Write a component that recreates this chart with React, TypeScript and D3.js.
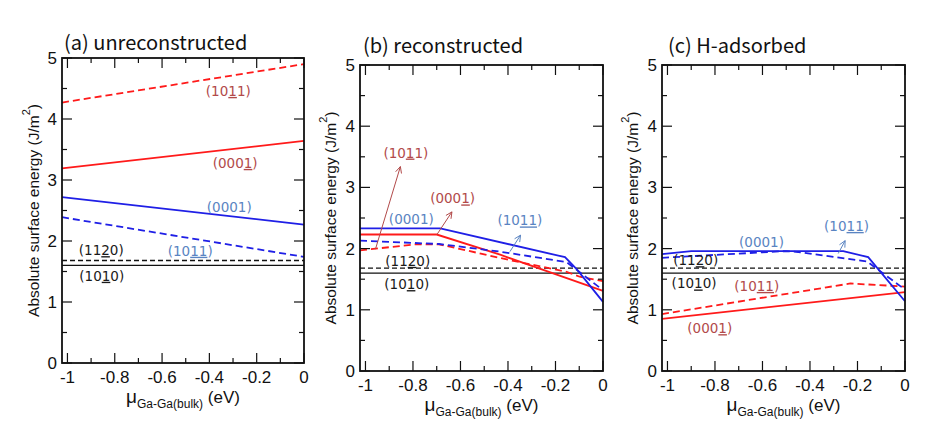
import React from "react";
import * as d3 from "d3";

// ---------- data ----------
const XMIN = -1.023;
const xTickValues = [-1, -0.8, -0.6, -0.4, -0.2, 0];
const xTickLabels = ["-1", "-0.8", "-0.6", "-0.4", "-0.2", "0"];
const xMinorTicks = [-0.9, -0.7, -0.5, -0.3, -0.1];
const yTickValues = [0, 1, 2, 3, 4, 5];
const yTickLabels = ["0", "1", "2", "3", "4", "5"];
const yMinorTicks = [0.5, 1.5, 2.5, 3.5, 4.5];

const panelTitles = ["(a) unreconstructed", "(b) reconstructed", "(c) H-adsorbed"];

const E_1120 = 1.68;
const E_1010 = 1.6;

// panel (a)
const aRed1011: [number, number][] = [[XMIN, 4.27], [0, 4.9]];
const aRed0001b: [number, number][] = [[XMIN, 3.19], [0, 3.64]];
const aBlue0001: [number, number][] = [[XMIN, 2.72], [0, 2.27]];
const aBlue1011: [number, number][] = [[XMIN, 2.39], [0, 1.74]];

// panel (b)
const bBlue0001: [number, number][] = [[XMIN, 2.33], [-0.685, 2.33], [-0.16, 1.86], [-0.11, 1.66], [0, 1.13]];
const bRed0001b: [number, number][] = [[XMIN, 2.23], [-0.7, 2.23], [-0.433, 1.9], [0, 1.31]];
const bBlue1011: [number, number][] = [[XMIN, 2.13], [-0.69, 2.075], [-0.433, 1.95], [-0.153, 1.78], [0, 1.32]];
const bRed1011: [number, number][] = [[XMIN, 1.97], [-0.79, 2.07], [-0.69, 2.07], [-0.39, 1.81], [-0.153, 1.62], [-0.098, 1.54], [0, 1.47]];

// panel (c)
const cBlue0001: [number, number][] = [[XMIN, 1.91], [-0.9, 1.96], [-0.26, 1.96], [-0.155, 1.86], [0, 1.14]];
const cBlue1011: [number, number][] = [[XMIN, 1.85], [-0.5, 1.96], [-0.44, 1.94], [-0.16, 1.79], [0, 1.33]];
const cRed0001b: [number, number][] = [[XMIN, 0.85], [0, 1.29]];
const cRed1011: [number, number][] = [[XMIN, 0.93], [-0.23, 1.43], [0, 1.38]];

// labels: [x, y, text, colour group] ; [..] marks underlined part
const aLabels: [number, number, string, string][] = [
  [-0.32, 4.46, "(10[1]1)", "red"],
  [-0.291, 3.28, "(000[1])", "red"],
  [-0.316, 2.56, "(0001)", "blue"],
  [-0.481, 1.84, "(10[11])", "blue"],
  [-0.857, 1.85, "(11[2]0)", "black"],
  [-0.855, 1.43, "(10[1]0)", "black"],
];
const bLabels: [number, number, string, string][] = [
  [-0.83, 3.57, "(10[1]1)", "red"],
  [-0.633, 2.82, "(000[1])", "red"],
  [-0.807, 2.48, "(0001)", "blue"],
  [-0.35, 2.46, "(10[11])", "blue"],
  [-0.822, 1.8, "(11[2]0)", "black"],
  [-0.826, 1.42, "(10[1]0)", "black"],
];
const cLabels: [number, number, string, string][] = [
  [-0.604, 2.11, "(0001)", "blue"],
  [-0.246, 2.37, "(10[11])", "blue"],
  [-0.881, 1.81, "(11[2]0)", "black"],
  [-0.888, 1.43, "(10[1]0)", "black"],
  [-0.624, 1.39, "(10[11])", "red"],
  [-0.822, 0.7, "(000[1])", "red"],
];

// arrows: [x1, y1, x2, y2, colour group]
const bArrows: [number, number, number, number, string][] = [
  [-0.958, 1.99, -0.853, 3.34, "red"],
  [-0.699, 2.23, -0.636, 2.6, "red"],
  [-0.392, 1.95, -0.347, 2.22, "blue"],
];
const cArrows: [number, number, number, number, string][] = [
  [-0.281, 1.92, -0.252, 2.13, "blue"],
];

// ---------- styling ----------
const LINE = { red: "#ff1a1a", blue: "#1f1fe6", black: "#111" };
const LABEL = { red: "#b24a4a", blue: "#5a84c2", black: "#1a1a1a" };

const frames = [
  { left: 62, right: 304, top: 58, bottom: 363, tx: 2, ty: -8, yl: -29 },
  { left: 360, right: 603, top: 65, bottom: 371, tx: 3, ty: -12, yl: -30 },
  { left: 662, right: 905, top: 65, bottom: 371, tx: 6, ty: -12, yl: -30 },
];

type Series = { pts: [number, number][]; color: "red" | "blue" | "black"; dashed: boolean };

const panelSeries: Series[][] = [
  [
    { pts: [[XMIN, E_1010], [0, E_1010]], color: "black", dashed: false },
    { pts: [[XMIN, E_1120], [0, E_1120]], color: "black", dashed: true },
    { pts: aRed1011, color: "red", dashed: true },
    { pts: aRed0001b, color: "red", dashed: false },
    { pts: aBlue0001, color: "blue", dashed: false },
    { pts: aBlue1011, color: "blue", dashed: true },
  ],
  [
    { pts: [[XMIN, E_1010], [0, E_1010]], color: "black", dashed: false },
    { pts: [[XMIN, E_1120], [0, E_1120]], color: "black", dashed: true },
    { pts: bRed1011, color: "red", dashed: true },
    { pts: bRed0001b, color: "red", dashed: false },
    { pts: bBlue1011, color: "blue", dashed: true },
    { pts: bBlue0001, color: "blue", dashed: false },
  ],
  [
    { pts: [[XMIN, E_1010], [0, E_1010]], color: "black", dashed: false },
    { pts: [[XMIN, E_1120], [0, E_1120]], color: "black", dashed: true },
    { pts: cRed1011, color: "red", dashed: true },
    { pts: cRed0001b, color: "red", dashed: false },
    { pts: cBlue1011, color: "blue", dashed: true },
    { pts: cBlue0001, color: "blue", dashed: false },
  ],
];
const panelLabels = [aLabels, bLabels, cLabels];
const panelArrows = [[], bArrows, cArrows] as [number, number, number, number, string][][];

function parseLabel(s: string) {
  const parts: { t: string; u: boolean }[] = [];
  const re = /\[([^\]]+)\]|([^\[]+)/g;
  let m;
  while ((m = re.exec(s))) {
    if (m[1]) parts.push({ t: m[1], u: true });
    else parts.push({ t: m[2], u: false });
  }
  return parts;
}

const TICKFONT = "'Liberation Sans', Arial, sans-serif";
const LABELFONT = "'DejaVu Sans', sans-serif";
const TITLEFONT = "'Noto Sans CJK KR', 'Noto Sans', sans-serif";

function Panel({ idx }: { idx: number }) {
  const f = frames[idx];
  const x = d3.scaleLinear().domain([XMIN, 0]).range([f.left, f.right]);
  const y = d3.scaleLinear().domain([0, 5]).range([f.bottom, f.top]);
  const line = d3
    .line<[number, number]>()
    .x((d) => x(d[0]))
    .y((d) => y(d[1]));
  const MAJ = 10;
  const MIN = 5;
  const cy = (f.top + f.bottom) / 2;
  const cx = (f.left + f.right) / 2;
  return (
    <g>
      <text x={f.left + f.tx} y={f.top + f.ty} fontFamily={TITLEFONT} fontSize={20} fill="#111">
        {panelTitles[idx]}
      </text>
      {/* series */}
      {panelSeries[idx].map((s, i) => (
        <path
          key={i}
          d={line(s.pts) || ""}
          fill="none"
          stroke={LINE[s.color]}
          strokeWidth={s.color === "black" ? 1.3 : 1.8}
          strokeDasharray={s.dashed ? (s.color === "black" ? "5,3" : "7,4") : undefined}
        />
      ))}
      {/* arrows */}
      {panelArrows[idx].map((a, i) => {
        const x1 = x(a[0]), y1 = y(a[1]), x2 = x(a[2]), y2 = y(a[3]);
        const ang = Math.atan2(y2 - y1, x2 - x1);
        const L = 7, sp = 0.45;
        const p1 = [x2 - L * Math.cos(ang - sp), y2 - L * Math.sin(ang - sp)];
        const p2 = [x2 - L * Math.cos(ang + sp), y2 - L * Math.sin(ang + sp)];
        const col = LABEL[a[4] as "red" | "blue"];
        return (
          <g key={i} stroke={col} strokeWidth={1} fill="none">
            <line x1={x1} y1={y1} x2={x2} y2={y2} />
            <polyline points={`${p1[0]},${p1[1]} ${x2},${y2} ${p2[0]},${p2[1]}`} />
          </g>
        );
      })}
      {/* labels */}
      {panelLabels[idx].map((l, i) => (
        <text
          key={i}
          x={x(l[0])}
          y={y(l[1]) + 5}
          textAnchor="middle"
          fontFamily={LABELFONT}
          fontSize={13.5}
          fill={LABEL[l[3] as "red" | "blue" | "black"]}
        >
          {parseLabel(l[2]).map((p, j) => (
            <tspan key={j} style={p.u ? { textDecoration: "underline" } : undefined}>
              {p.t}
            </tspan>
          ))}
        </text>
      ))}
      {/* frame */}
      <rect x={f.left} y={f.top} width={f.right - f.left} height={f.bottom - f.top} fill="none" stroke="#111" strokeWidth={1.8} />
      {/* x ticks */}
      {xTickValues.map((v, i) => (
        <g key={"xt" + i} stroke="#111" strokeWidth={1.2}>
          <line x1={x(v)} x2={x(v)} y1={f.bottom} y2={f.bottom - MAJ} />
          <line x1={x(v)} x2={x(v)} y1={f.top} y2={f.top + MAJ} />
        </g>
      ))}
      {xMinorTicks.map((v, i) => (
        <g key={"xm" + i} stroke="#111" strokeWidth={1.2}>
          <line x1={x(v)} x2={x(v)} y1={f.bottom} y2={f.bottom - MIN} />
          <line x1={x(v)} x2={x(v)} y1={f.top} y2={f.top + MIN} />
        </g>
      ))}
      {yTickValues.map((v, i) => (
        <g key={"yt" + i} stroke="#111" strokeWidth={1.2}>
          <line x1={f.left} x2={f.left + MAJ} y1={y(v)} y2={y(v)} />
          <line x1={f.right} x2={f.right - MAJ} y1={y(v)} y2={y(v)} />
        </g>
      ))}
      {yMinorTicks.map((v, i) => (
        <g key={"ym" + i} stroke="#111" strokeWidth={1.2}>
          <line x1={f.left} x2={f.left + MIN} y1={y(v)} y2={y(v)} />
          <line x1={f.right} x2={f.right - MIN} y1={y(v)} y2={y(v)} />
        </g>
      ))}
      {/* tick labels */}
      {xTickValues.map((v, i) => (
        <text key={"xl" + i} x={x(v)} y={f.bottom + 20} textAnchor="middle" fontFamily={TICKFONT} fontSize={17} fill="#111">
          {xTickLabels[i]}
        </text>
      ))}
      {yTickValues.map((v, i) => (
        <text key={"yl" + i} x={f.left - 5} y={y(v) + 6} textAnchor="end" fontFamily={TICKFONT} fontSize={17} fill="#111">
          {yTickLabels[i]}
        </text>
      ))}
      {/* y axis label */}
      <text
        transform={`translate(${f.left + f.yl},${cy}) rotate(-90)`}
        textAnchor="middle"
        dominantBaseline="central"
        fontFamily={TICKFONT}
        fontSize={15.5}
        fill="#111"
      >
        Absolute surface energy (J/m
        <tspan dy={-7} fontSize={11}>2</tspan>
        <tspan dy={7}>)</tspan>
      </text>
      {/* x axis label */}
      <text x={cx} y={f.bottom + 40} textAnchor="middle" fontFamily={TICKFONT} fill="#111">
        <tspan fontSize={19}>μ</tspan>
        <tspan fontSize={12} dy={5}>Ga-Ga(bulk)</tspan>
        <tspan fontSize={17} dy={-5}> (eV)</tspan>
      </text>
    </g>
  );
}

export default function App() {
  return (
    <svg
      width={927}
      height={430}
      style={{ position: "absolute", left: 0, top: 0, background: "#fff" }}
    >
      <rect width={927} height={430} fill="#fff" />
      {[0, 1, 2].map((i) => (
        <Panel key={i} idx={i} />
      ))}
    </svg>
  );
}
